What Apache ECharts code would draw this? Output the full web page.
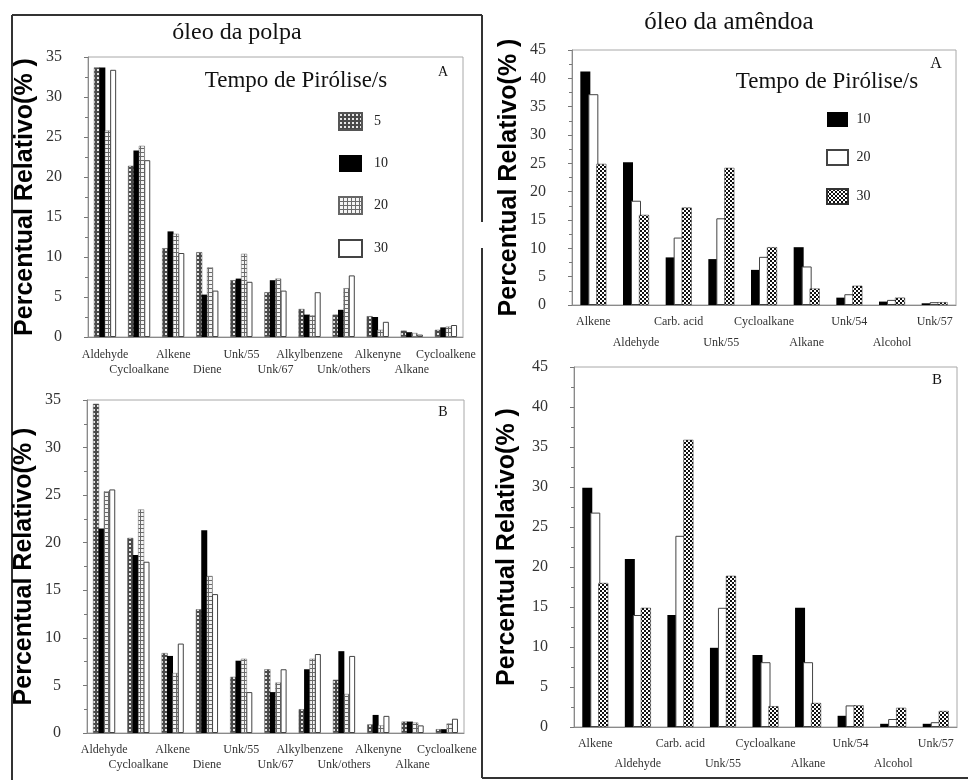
<!DOCTYPE html>
<html>
<head>
<meta charset="utf-8">
<script src="https://cdn.jsdelivr.net/npm/echarts@6/dist/echarts.min.js"></script>
<style>
html,body{margin:0;padding:0;background:#fff;}
#chart{width:968px;height:780px;}
</style>
</head>
<body>
<div id="chart"></div>
<script>
// ---------- DATA ----------
const polpaCategories = ['Aldehyde','Cycloalkane','Alkene','Diene','Unk/55','Unk/67','Alkylbenzene','Unk/others','Alkenyne','Alkane','Cycloalkene'];
const amendoaCategories = ['Alkene','Aldehyde','Carb. acid','Unk/55','Cycloalkane','Alkane','Unk/54','Alcohol','Unk/57'];

const polpaTimes = ['5','10','20','30'];
const amendoaTimes = ['10','20','30'];

// óleo da polpa – A
const polpaA_5  = [33.7, 21.4, 11.1, 10.6, 7.1, 5.6, 3.5, 2.8, 2.6, 0.8, 0.9];
const polpaA_10 = [33.7, 23.3, 13.2, 5.3, 7.3, 7.1, 2.8, 3.4, 2.5, 0.6, 1.2];
const polpaA_20 = [25.8, 23.9, 12.9, 8.7, 10.4, 7.3, 2.7, 6.1, 0.9, 0.5, 1.3];
const polpaA_30 = [33.4, 22.1, 10.5, 5.8, 6.9, 5.8, 5.6, 7.7, 1.9, 0.3, 1.5];
// óleo da polpa – B
const polpaB_5  = [34.6, 20.5, 8.4, 13.0, 5.9, 6.7, 2.5, 5.6, 0.9, 1.2, 0.4];
const polpaB_10 = [21.5, 18.7, 8.1, 21.3, 7.6, 4.3, 6.7, 8.6, 1.9, 1.2, 0.4];
const polpaB_20 = [25.4, 23.5, 6.3, 16.5, 7.8, 5.3, 7.8, 4.1, 0.8, 1.1, 1.0];
const polpaB_30 = [25.6, 18.0, 9.4, 14.6, 4.3, 6.7, 8.3, 8.1, 1.8, 0.8, 1.5];
// óleo da amêndoa – A
const amendoaA_10 = [41.2, 25.2, 8.4, 8.1, 6.2, 10.2, 1.3, 0.6, 0.3];
const amendoaA_20 = [37.2, 18.4, 11.9, 15.3, 8.5, 6.8, 1.9, 0.9, 0.5];
const amendoaA_30 = [24.9, 15.9, 17.2, 24.2, 10.2, 2.9, 3.4, 1.3, 0.5];
// óleo da amêndoa – B
const amendoaB_10 = [29.9, 21.0, 14.0, 9.9, 9.0, 14.9, 1.4, 0.4, 0.4];
const amendoaB_20 = [26.8, 14.0, 23.9, 14.9, 8.1, 8.1, 2.7, 1.0, 0.6];
const amendoaB_30 = [18.0, 14.9, 35.9, 18.9, 2.6, 3.0, 2.7, 2.4, 2.0];

const polpaYTicks = [0, 35, 5];     // min, max, interval
const amendoaYTicks = [0, 45, 5];

// ---------- PATTERNS ----------
function makePattern(size, draw) {
  const c = document.createElement('canvas');
  c.width = size; c.height = size;
  const ctx = c.getContext('2d');
  draw(ctx);
  return { image: c, repeat: 'repeat' };
}
const patDots = makePattern(4, ctx => {          // grey dotted (polpa 5s)
  ctx.fillStyle = '#4a4a4a'; ctx.fillRect(0,0,4,4);
  ctx.fillStyle = '#e8e8e8'; ctx.fillRect(1,1,2,2);
});
const patGrid = makePattern(4, ctx => {          // grid (polpa 20s)
  ctx.fillStyle = '#f4f4f4'; ctx.fillRect(0,0,4,4);
  ctx.fillStyle = '#6a6a6a'; ctx.fillRect(0,0,4,1); ctx.fillRect(0,0,1,4);
});
const patChecker = makePattern(4, ctx => {       // checker (amêndoa 30s)
  ctx.fillStyle = '#111'; ctx.fillRect(0,0,4,4);
  ctx.fillStyle = '#fff'; ctx.fillRect(0,0,2,2); ctx.fillRect(2,2,2,2);
});

const styles = {
  P5:  { color: patDots, borderColor: '#555', borderWidth: 0.5 },
  P10: { color: '#000' },
  P20: { color: patGrid, borderColor: '#666', borderWidth: 0.5 },
  P30: { color: '#fff', borderColor: '#444', borderWidth: 1 },
  A10: { color: '#000' },
  A20: { color: '#fff', borderColor: '#444', borderWidth: 1 },
  A30: { color: patChecker, borderColor: '#333', borderWidth: 0.5 }
};

// ---------- LAYOUT ----------
const serif = 'Liberation Serif, Times New Roman, serif';
const sans = 'Liberation Sans, Arial, sans-serif';
const yName = 'Percentual Relativo(% )';

const grids = [
  { left: 88, top: 57, width: 375, height: 280 },
  { left: 87, top: 400, width: 377, height: 333 },
  { left: 572, top: 50, width: 384, height: 255 },
  { left: 574, top: 367, width: 383, height: 360 }
].map(g => Object.assign({ show: true, borderColor: '#a8a8a8', borderWidth: 1, containLabel: false, outerBoundsMode: 'none' }, g));

function xAxisFor(gi, cats, margin, lh, fs) {
  return {
    type: 'category', gridIndex: gi, data: cats,
    axisLine: { show: true, lineStyle: { color: '#8a8a8a', width: 1 } },
    axisTick: { show: false },
    splitLine: { show: false },
    axisLabel: {
      interval: 0, margin: margin, fontFamily: serif, fontSize: fs, color: '#333', lineHeight: lh,
      formatter: (v, i) => (i % 2 ? '\n' + v : v)
    }
  };
}
function yAxisFor(gi, ticks, gap) {
  return {
    type: 'value', gridIndex: gi, min: ticks[0], max: ticks[1], interval: ticks[2],
    axisLine: { show: true, lineStyle: { color: '#8a8a8a', width: 1 } },
    axisTick: { show: true, length: 4, lineStyle: { color: '#777' } },
    minorTick: { show: true, splitNumber: 2, length: 3, lineStyle: { color: '#777' } },
    splitLine: { show: false },
    axisLabel: { margin: 26, fontFamily: serif, fontSize: 16, color: '#333' },
    name: yName, nameLocation: 'middle', nameRotate: 90, nameGap: gap,
    nameTextStyle: { fontFamily: sans, fontWeight: 'bold', fontSize: 25, color: '#000' }
  };
}

function bar(name, key, gi, data, width, gap) {
  return {
    type: 'bar', name: name, xAxisIndex: gi, yAxisIndex: gi, data: data,
    barWidth: width, barGap: gap, itemStyle: styles[key], emphasis: { disabled: true }, animation: false
  };
}

const series = [
  bar('P5',  'P5',  0, polpaA_5,  6, '-10%'),
  bar('P10', 'P10', 0, polpaA_10, 6, '-10%'),
  bar('P20', 'P20', 0, polpaA_20, 6, '-10%'),
  bar('P30', 'P30', 0, polpaA_30, 6, '-10%'),
  bar('P5',  'P5',  1, polpaB_5,  6, '-10%'),
  bar('P10', 'P10', 1, polpaB_10, 6, '-10%'),
  bar('P20', 'P20', 1, polpaB_20, 6, '-10%'),
  bar('P30', 'P30', 1, polpaB_30, 6, '-10%'),
  bar('A10', 'A10', 2, amendoaA_10, 10, '-20%'),
  bar('A20', 'A20', 2, amendoaA_20, 10, '-20%'),
  bar('A30', 'A30', 2, amendoaA_30, 10, '-20%'),
  bar('A10', 'A10', 3, amendoaB_10, 10, '-20%'),
  bar('A20', 'A20', 3, amendoaB_20, 10, '-20%'),
  bar('A30', 'A30', 3, amendoaB_30, 10, '-20%')
];

function txt(x, y, s, size, align, font) {
  return { type: 'text', x: x, y: y, silent: true,
    style: { text: s, fontSize: size, fontFamily: font || serif, fill: '#111', align: align || 'center', verticalAlign: 'middle' } };
}
function ln(x1, y1, x2, y2, w) {
  return { type: 'line', silent: true, shape: { x1: x1, y1: y1, x2: x2, y2: y2 }, style: { stroke: '#333', lineWidth: w || 2 } };
}

const option = {
  backgroundColor: '#fff',
  animation: false,
  grid: grids,
  xAxis: [
    xAxisFor(0, polpaCategories, 10, 15, 12),
    xAxisFor(1, polpaCategories, 9, 15, 12),
    xAxisFor(2, amendoaCategories, 6, 21, 12),
    xAxisFor(3, amendoaCategories, 7, 20, 12)
  ],
  yAxis: [
    yAxisFor(0, polpaYTicks, 50),
    yAxisFor(1, polpaYTicks, 50),
    yAxisFor(2, amendoaYTicks, 50),
    yAxisFor(3, amendoaYTicks, 54)
  ],
  legend: [
    { orient: 'vertical', left: 333, top: 107, itemWidth: 23, itemHeight: 17, itemGap: 24, icon: 'rect',
      selectedMode: false, data: polpaTimes.map(t => 'P' + t),
      formatter: n => '  ' + n.slice(1), textStyle: { fontFamily: serif, fontSize: 14, color: '#222' } },
    { orient: 'vertical', left: 821, top: 107, itemWidth: 21, itemHeight: 15, itemGap: 22, icon: 'rect',
      selectedMode: false, data: amendoaTimes.map(t => 'A' + t),
      formatter: n => ' ' + n.slice(1), textStyle: { fontFamily: serif, fontSize: 14, color: '#222' } }
  ],
  graphic: [
    ln(12, 15, 482, 15), ln(12, 15, 12, 780), ln(482, 15, 482, 222), ln(482, 248, 482, 778), ln(482, 778, 968, 778),
    txt(237, 33, 'óleo da polpa', 24),
    txt(729, 22, 'óleo da amêndoa', 25),
    txt(296, 81, 'Tempo de Pirólise/s', 23),
    txt(827, 82, 'Tempo de Pirólise/s', 23),
    txt(443, 72, 'A', 14),
    txt(443, 412, 'B', 14),
    txt(936, 64, 'A', 16),
    txt(937, 380, 'B', 15)
  ],
  series: series
};

const chart = echarts.init(document.getElementById('chart'), null, { renderer: 'canvas' });
chart.setOption(option);
</script>
</body>
</html>
